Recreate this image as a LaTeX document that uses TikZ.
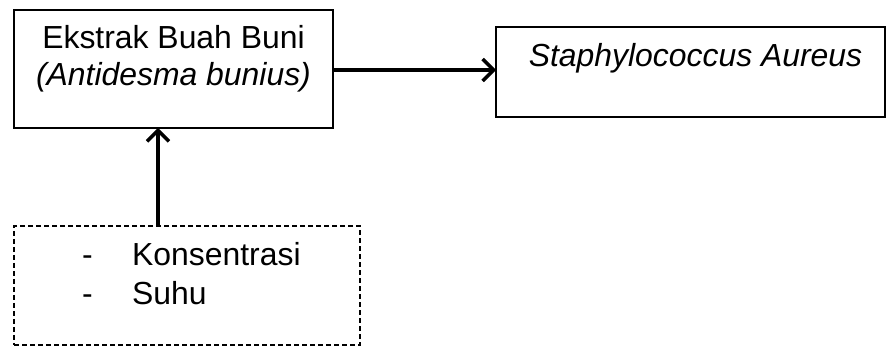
\documentclass[tikz,border=0pt]{standalone}
\usepackage{fontspec}
\setmainfont{Liberation Sans}
\usetikzlibrary{arrows.meta}
\begin{document}
\begin{tikzpicture}[x=1pt,y=-1pt,
  frame/.style={draw, line width=2.5pt, inner sep=0pt, outer sep=0pt},
  dashframe/.style={frame, line width=2.2pt, dash pattern=on 5pt off 3pt},
  lbl/.style={anchor=base, inner sep=0pt, font=\fontsize{31.9}{37}\selectfont},
  arr/.style={line width=3.5pt, -{Straight Barb[length=11pt, width=22pt, line width=3.5pt]}}]
\useasboundingbox (0,0) rectangle (889,347);

% boxes
\node[frame, minimum width=319pt, minimum height=118pt] (ekstrak) at (173.5,69) {};
\node[frame, minimum width=389pt, minimum height=90pt] (bakteri) at (690.5,72) {};
\node[dashframe, minimum width=346pt, minimum height=119pt] (faktor) at (187,285.5) {};

% texts
\node[lbl] (t1) at (173.5,49) {Ekstrak Buah Buni};
\node[lbl] (t2) at (173.5,86) {\itshape (Antidesma bunius)};
\node[lbl] (t3) at (695.5,67) {\itshape Staphylococcus Aureus};
\node[lbl] (d1) at (87.5,266) {-};
\node[lbl] (d2) at (87.5,305) {-};
\node[lbl, anchor=base west] (k) at (132,266) {Konsentrasi};
\node[lbl, anchor=base west] (s) at (132,305) {Suhu};

% connectors
\draw[arr] (ekstrak.east |- 0,70) -- (bakteri.west |- 0,70);
\coordinate (ftop) at ([xshift=-29pt]faktor.north);
\draw[arr] (ftop) -- (ftop |- ekstrak.south);
\end{tikzpicture}
\end{document}
